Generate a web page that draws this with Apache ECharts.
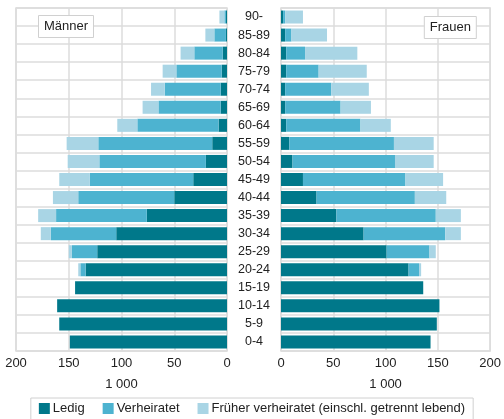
<!DOCTYPE html>
<html><head><meta charset="utf-8">
<script src="https://cdn.jsdelivr.net/npm/echarts@6/dist/echarts.min.js"></script>
<style>html,body{margin:0;padding:0;background:#fff}#c{width:504px;height:419px}</style>
</head><body><div id="c"></div>
<script>
// age groups, bottom to top
const ages = ['0-4','5-9','10-14','15-19','20-24','25-29','30-34','35-39','40-44','45-49','50-54','55-59','60-64','65-69','70-74','75-79','80-84','85-89','90-'];
const menLedig   = [149,159,161,144,134,123,105,76,50,32,20,14,8,6,6,5,4,1,1];
const menVerh    = [0,0,0,0,5,24,62,86,91,98,101,108,77,59,53,43,27,11,1.5];
const menFrueher = [0,0,0,0,2,3,9.5,17,24,29,30,30,19,15,13,13,13,8.5,4.7];
const womLedig   = [143,149,151.5,136,122,101,79,53,34,21,11,8,5,4,4,5,5,4,2];
const womVerh    = [0,0,0,0,10,41,78,95,94,98,98,100,71,53,44,31,18,6,2];
const womFrueher = [0,0,0,0,2,6,15,24,30,36,37,38,29,29,36,46,50,34,17];
const xTicks = [0,50,100,150,200];
const seriesNames = ['Ledig','Verheiratet','Früher verheiratet (einschl. getrennt lebend)'];
const colors = ['#00788a','#4db3d0','#a9d5e5'];

const chart = echarts.init(document.getElementById('c'));
const font = 'Liberation Sans, Arial, sans-serif';
const gridLine = {color:'#dcdcdc', width:1.5};
function xAxis(idx, inverse){
  return {
    type:'value', gridIndex:idx, min:xTicks[0], max:xTicks[xTicks.length-1], interval:50, inverse:inverse,
    name:'1 000', nameLocation:'middle', nameGap:27,
    nameTextStyle:{color:'#222', fontSize:13, fontFamily:font},
    axisLine:{show:false}, axisTick:{show:false},
    axisLabel:{color:'#222', fontSize:13, fontFamily:font, margin:6},
    splitLine:{show:true, lineStyle:gridLine}
  };
}
function yAxis(idx, showLabel){
  return {
    type:'category', gridIndex:idx, data:ages, position: showLabel ? 'left' : 'right',
    axisLine:{show:false}, axisTick:{show:false},
    axisLabel:{show:showLabel, align:'center', margin:27, color:'#222', fontSize:12.5, fontFamily:font, interval:0},
    splitLine:{show:true, interval:0, lineStyle:gridLine}
  };
}
const mData = [menLedig, menVerh, menFrueher];
const fData = [womLedig, womVerh, womFrueher];
const series = [];
for (let i=0;i<3;i++){
  series.push({name:seriesNames[i], type:'bar', stack:'m', xAxisIndex:0, yAxisIndex:0, data:mData[i], barWidth:13, itemStyle:{color:colors[i]}, silent:true});
}
for (let i=0;i<3;i++){
  series.push({name:seriesNames[i], type:'bar', stack:'f', xAxisIndex:1, yAxisIndex:1, data:fData[i], barWidth:13, itemStyle:{color:colors[i]}, silent:true});
}
chart.setOption({
  animation:false,
  textStyle:{fontFamily:font},
  title:[
    {text:'Männer', left:38, top:15, padding:[5,6,5,6], borderColor:'#d0d0d0', borderWidth:1, backgroundColor:'#fff',
     textStyle:{fontSize:13, fontWeight:'normal', color:'#222', fontFamily:font}},
    {text:'Frauen', right:27, top:16, padding:[5,6,5,6], borderColor:'#d0d0d0', borderWidth:1, backgroundColor:'#fff',
     textStyle:{fontSize:13, fontWeight:'normal', color:'#222', fontFamily:font}}
  ],
  legend:{
    data:seriesNames, top:398, left:'center', icon:'rect', itemWidth:11, itemHeight:11, itemGap:18,
    borderColor:'#d0d0d0', borderWidth:1, padding:[4,8,8,8],
    textStyle:{fontSize:13, color:'#222', fontFamily:font, padding:[0,0,0,-2]}
  },
  grid:[
    {left:16, width:211, top:8, height:343, show:true, borderColor:'#dcdcdc', borderWidth:1.5, backgroundColor:'transparent'},
    {left:281, width:211, top:8, height:343, show:true, borderColor:'#dcdcdc', borderWidth:1.5, backgroundColor:'transparent'}
  ],
  xAxis:[xAxis(0,true), xAxis(1,false)],
  yAxis:[yAxis(0,false), yAxis(1,true)],
  series:series
});
</script></body></html>
